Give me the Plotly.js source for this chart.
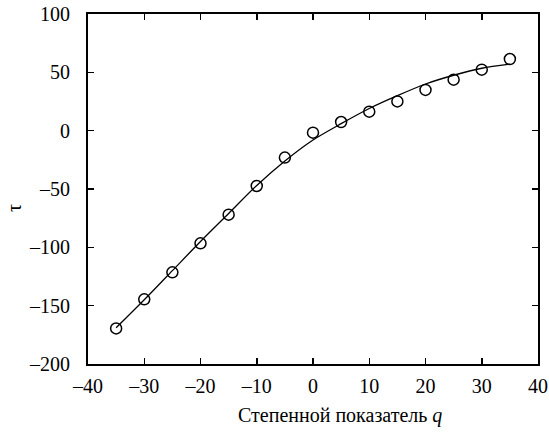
<!DOCTYPE html>
<html>
<head>
<meta charset="utf-8">
<script src="https://cdn.plot.ly/plotly-3.0.1.min.js"></script>
<style>html,body{margin:0;padding:0;background:#fff;}#chart{width:549px;height:434px;}</style>
</head>
<body>
<div id="chart"></div>
<script>
// Data
const qValues = [-35, -30, -25, -20, -15, -10, -5, 0, 5, 10, 15, 20, 25, 30, 35];
const tauMeasured = [-169.5, -144.6, -121.4, -96.6, -72, -47.4, -23.1, -1.7, 7.4, 16.3, 25.1, 34.9, 43.7, 52.3, 61.4];
const tauFit = [-169, -145, -120, -95, -71, -47, -26, -8, 6, 19, 30, 40, 47.5, 53.5, 57];
const xTickVals = [-40, -30, -20, -10, 0, 10, 20, 30, 40];
const xTickText = ['–40', '–30', '–20', '–10', '0', '10', '20', '30', '40'];
const yTickVals = [-200, -150, -100, -50, 0, 50, 100];
const yTickText = ['–200', '–150', '–100', '–50', '0', '50', '100'];
const xTitle = 'Степенной показатель <i>q</i>';
const yTitle = 'τ';

const font = {family: '"Liberation Serif", "Times New Roman", serif', size: 20, color: '#000'};

const traces = [
  {
    x: qValues, y: tauFit, mode: 'lines', type: 'scatter',
    line: {color: '#000', width: 1.3, shape: 'spline', smoothing: 0.8},
    hoverinfo: 'skip', showlegend: false
  },
  {
    x: qValues, y: tauMeasured, mode: 'markers', type: 'scatter',
    marker: {symbol: 'circle-open', size: 11, color: '#000', line: {color: '#000', width: 1.5}},
    showlegend: false
  }
];

const layout = {
  width: 549, height: 434,
  margin: {l: 88, r: 11, t: 14, b: 70},
  paper_bgcolor: '#fff', plot_bgcolor: '#fff',
  font: font,
  showlegend: false,
  xaxis: {
    range: [-40, 40], tickvals: xTickVals, ticktext: xTickText,
    ticks: 'inside', ticklen: 6, tickwidth: 1.5, tickcolor: '#000',
    showline: true, linecolor: '#000', linewidth: 2, mirror: 'ticks',
    showgrid: false, zeroline: false,
    tickfont: font, ticklabelstandoff: 3,
    title: {text: ''}
  },
  yaxis: {
    range: [-200, 100], tickvals: yTickVals, ticktext: yTickText,
    ticks: 'inside', ticklen: 6, tickwidth: 1.5, tickcolor: '#000',
    showline: true, linecolor: '#000', linewidth: 2, mirror: 'ticks',
    showgrid: false, zeroline: false,
    tickfont: font, ticklabelstandoff: 12,
    title: {text: ''}
  },
  annotations: [
    {text: xTitle, xref: 'paper', yref: 'paper', x: (340 - 88) / 450, y: (364 - 415) / 350,
     xanchor: 'center', yanchor: 'middle', showarrow: false, font: font},
    {text: yTitle, xref: 'paper', yref: 'paper', x: (14 - 88) / 450, y: (364 - 208) / 350,
     xanchor: 'center', yanchor: 'middle', textangle: -90, showarrow: false, font: font}
  ]
};

Plotly.newPlot('chart', traces, layout, {displayModeBar: false, staticPlot: true});
</script>
</body>
</html>
